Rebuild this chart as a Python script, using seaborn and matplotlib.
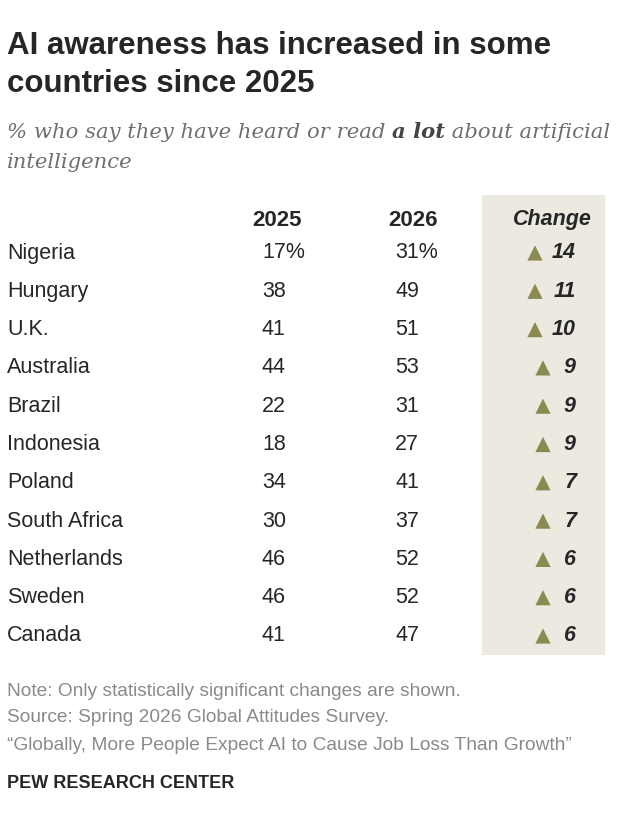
import matplotlib
matplotlib.use("Agg")
import matplotlib.pyplot as plt
import seaborn as sns
import pandas as pd

countries = ["Nigeria", "Hungary", "U.K.", "Australia", "Brazil", "Indonesia",
             "Poland", "South Africa", "Netherlands", "Sweden", "Canada"]
v2025 = [17, 38, 41, 44, 22, 18, 34, 30, 46, 46, 41]
v2026 = [31, 49, 51, 53, 31, 27, 41, 37, 52, 52, 47]
change = [14, 11, 10, 9, 9, 9, 7, 7, 6, 6, 6]

sns.set_theme(style="white")
plt.rcParams['font.family'] = ['Liberation Sans', 'DejaVu Sans']

W, H = 620, 832
fig = plt.figure(figsize=(W / 100, H / 100), dpi=100)

def ft(x, y, s, **kw):
    fig.text(x / W, 1 - y / H, s, **kw)

ft(7, 46, "AI awareness has increased in some", fontsize=22.5, fontweight="bold", va="center")
ft(7, 84, "countries since 2025", fontsize=22.5, fontweight="bold", va="center")
sub_kw = dict(fontsize=15.2, color="#6f6f6f", style="italic", va="center", family="DejaVu Serif")
fig.text(7 / W, 1 - 132 / H, "% who say they have heard or read ", **sub_kw)
ft(7, 163, "intelligence", **sub_kw)

top, bot = 195, 655
ax = fig.add_axes([0, 1 - bot / H, 1, (bot - top) / H])
sp = 38.3
ax.set_xlim(0, W)
ax.set_ylim((bot - 253) / sp, (top - 253) / sp)
ax.axis("off")
ax.axvspan(482, 604, color="#ece9e1", zorder=0)

fs = 15.5
hy = (220 - 253) / sp
ax.text(277, hy, "2025", fontsize=16, fontweight="bold", ha="center", va="center")
ax.text(413, hy, "2026", fontsize=16, fontweight="bold", ha="center", va="center")
ax.text(552, hy, "Change", fontsize=15.5, fontweight="bold", style="italic", ha="center", va="center")

df = pd.DataFrame({"country": countries, "a": v2025, "b": v2026, "c": change})
df["row"] = range(len(df))
df["tx"] = [535 if c >= 10 else 543 for c in change]
sns.scatterplot(data=df, x="tx", y="row", marker="^", s=120, color="#8b8a52",
                edgecolor="none", ax=ax, legend=False, zorder=3)

for i, r in df.iterrows():
    ax.text(7, r.row, r.country, fontsize=fs, va="center")
    sa = f"{r.a}%" if i == 0 else str(r.a)
    sb = f"{r.b}%" if i == 0 else str(r.b)
    ax.text(262, r.row, sa, fontsize=fs, va="center")
    ax.text(395, r.row, sb, fontsize=fs, va="center")
    ax.text(576, r.row, str(r.c), fontsize=fs, fontweight="bold", style="italic",
            ha="right", va="center")

gk = dict(fontsize=13.8, color="#8a8a8a", va="center")
ft(7, 692, "Note: Only statistically significant changes are shown.", **gk)
ft(7, 718, "Source: Spring 2026 Global Attitudes Survey.", **gk)
ft(7, 745, "\u201cGlobally, More People Expect AI to Cause Job Loss Than Growth\u201d", **gk)
ft(7, 783, "PEW RESEARCH CENTER", fontsize=13, fontweight="bold", va="center")

fig.canvas.draw()
r = fig.canvas.get_renderer()
t1 = fig.texts[2]
bb = t1.get_window_extent(r)
t2 = fig.text(bb.x1 / W, 1 - 132 / H, "a lot", fontsize=15.2, color="#444444", style="italic",
              fontweight="bold", va="center", family="DejaVu Serif")
bb2 = t2.get_window_extent(r)
fig.text(bb2.x1 / W, 1 - 132 / H, " about artificial", **sub_kw)

fig.savefig("out.png", dpi=100)
